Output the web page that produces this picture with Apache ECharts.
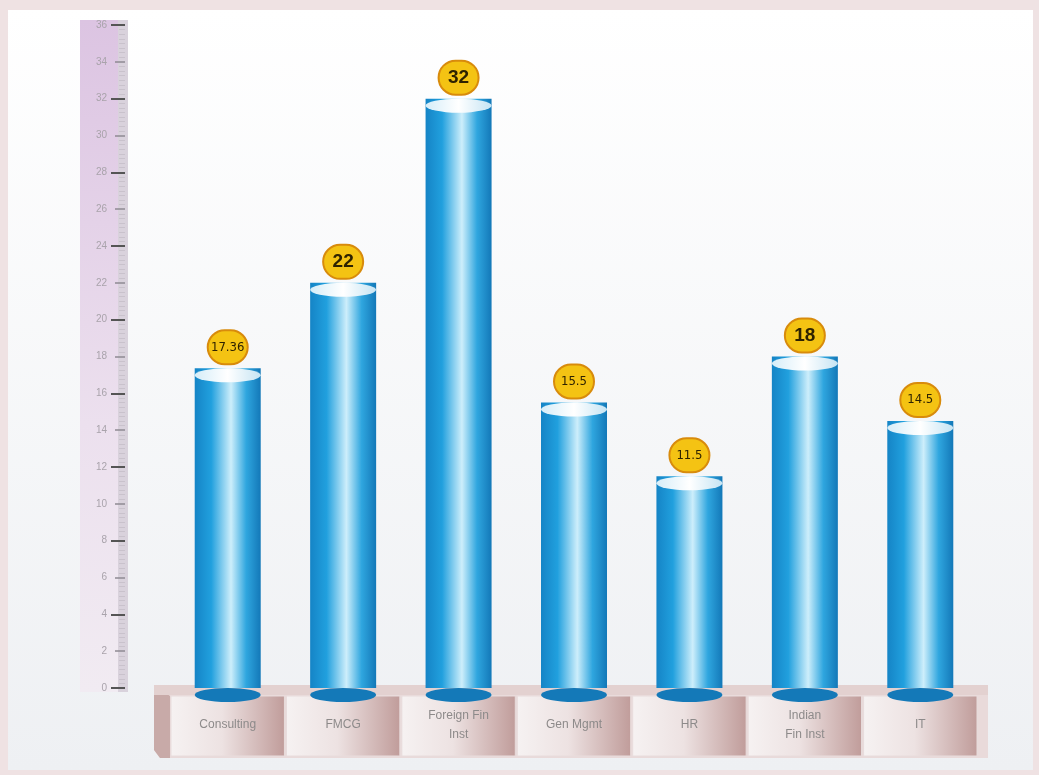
<!DOCTYPE html>
<html><head><meta charset="utf-8">
<script src="https://cdn.jsdelivr.net/npm/echarts@6/dist/echarts.min.js"></script>
<style>html,body{margin:0;padding:0;background:#efe2e3}#c{width:1039px;height:775px}</style>
</head><body><div id="c"></div>
<script>
const categories = ['Consulting', 'FMCG', 'Foreign Fin\nInst', 'Gen Mgmt', 'HR', 'Indian\nFin Inst', 'IT'];
const values = [17.36, 22, 32, 15.5, 11.5, 18, 14.5];
const labels = ['17.36', '22', '32', '15.5', '11.5', '18', '14.5'];
const yMin = 0, yMax = 36, yStep = 2;

const chart = echarts.init(document.getElementById('c'));
const barGrad = new echarts.graphic.LinearGradient(0, 0, 1, 0, [
  {offset: 0, color: '#1584c6'},
  {offset: 0.25, color: '#21a0de'},
  {offset: 0.55, color: '#cdeefb'},
  {offset: 0.78, color: '#2fa6df'},
  {offset: 1, color: '#1378b8'}
]);
const topGrad = new echarts.graphic.LinearGradient(0, 0, 1, 0, [
  {offset: 0, color: '#d6edf8'},
  {offset: 0.5, color: '#ffffff'},
  {offset: 1, color: '#c6e4f3'}
]);
const boxGrad = new echarts.graphic.LinearGradient(0, 0, 1, 0, [
  {offset: 0, color: '#f6f2f2'},
  {offset: 0.45, color: '#ede2e2'},
  {offset: 1, color: '#c09c9a'}
]);

chart.setOption({
  backgroundColor: '#efe2e3',
  animation: false,
  graphic: [
    {type: 'rect', z: -10, shape: {x: 8, y: 10, width: 1025, height: 760},
     style: {fill: new echarts.graphic.LinearGradient(0, 0, 0, 1, [
       {offset: 0, color: '#ffffff'}, {offset: 1, color: '#eef0f3'}])}},
    {type: 'rect', z: -9, shape: {x: 80, y: 20, width: 46, height: 672},
     style: {fill: new echarts.graphic.LinearGradient(0, 0, 0, 1, [
       {offset: 0, color: '#dcc4e2'}, {offset: 0.6, color: '#ece0ee'}, {offset: 1, color: '#f1ebf2'}])}},
    {type: 'rect', z: -8, shape: {x: 118, y: 20, width: 10, height: 672},
     style: {fill: '#d9d2dc'}}
  ],
  grid: {left: 170, right: 61, top: 25, bottom: 87},
  xAxis: {
    type: 'category', data: categories, z: 10,
    axisLine: {show: false}, axisTick: {show: false},
    axisLabel: {margin: 37, verticalAlign: 'middle', color: '#8d8a8a', fontSize: 12, lineHeight: 19, fontFamily: 'Liberation Sans'}
  },
  yAxis: [{
    type: 'value', min: yMin, max: yMax, interval: yStep, offset: 45,
    axisLine: {show: false},
    axisTick: {show: true, length: 10, lineStyle: {color: '#8f8a92', width: 1.5}},
    minorTick: {show: true, splitNumber: 8, length: 6, lineStyle: {color: '#c9c2cc'}},
    splitLine: {show: false},
    axisLabel: {color: '#a9a3ab', fontSize: 10, margin: 18, fontFamily: 'Liberation Sans'}
  }, {
    type: 'value', min: yMin, max: yMax, interval: yStep * 2, offset: 45, position: 'left',
    axisLine: {show: false},
    axisTick: {show: true, length: 14, lineStyle: {color: '#555', width: 2}},
    axisLabel: {show: false}, splitLine: {show: false}
  }],
  series: [
    {
      type: 'custom', z: 1,
      data: categories.map((c, i) => i),
      renderItem: function (params, api) {
        const p = api.coord([api.value(0), 0]);
        const bw = api.size([1, 0])[0];
        const x0 = p[0] - bw / 2, y0 = p[1];
        const children = [
          {type: 'rect', shape: {x: x0 + 1, y: y0 + 8, width: bw - 2, height: 60}, style: {fill: boxGrad, stroke: '#e8dcdc', lineWidth: 1}}
        ];
        if (params.dataIndex === 0) {
          const n = categories.length;
          const wAll = bw * n;
          children.unshift(
            {type: 'polygon', shape: {points: [[x0 - 16, y0 - 3], [x0 + wAll + 10, y0 - 3], [x0 + wAll + 10, y0 + 70], [x0 - 10, y0 + 70], [x0 - 16, y0 + 62]]}, style: {fill: '#e9dada'}},
            {type: 'polygon', shape: {points: [[x0 - 16, y0 - 3], [x0, y0 + 8], [x0, y0 + 70], [x0 - 10, y0 + 70], [x0 - 16, y0 + 62]]}, style: {fill: '#c8aaa8'}},
            {type: 'rect', shape: {x: x0 - 16, y: y0 - 3, width: wAll + 26, height: 10}, style: {fill: '#e3d1d0'}}
          );
        }
        return {type: 'group', children: children};
      },
      tooltip: {show: false}
    },
    {
      type: 'bar', data: values, barWidth: 66, z: 3,
      itemStyle: {color: barGrad},
      label: {
        show: true, position: 'top', distance: 5,
        formatter: p => labels[p.dataIndex].length > 3 ? '{s|' + labels[p.dataIndex] + '}' : '{b|' + labels[p.dataIndex] + '}',
        rich: {
          b: {backgroundColor: '#f4c313', borderColor: '#d88b0c', borderWidth: 2, borderRadius: 18,
              width: 32, height: 28, padding: [2, 3], align: 'center', color: '#2e2200', fontSize: 19, fontWeight: 'bold', fontFamily: 'Liberation Sans'},
          s: {backgroundColor: '#f4c313', borderColor: '#d88b0c', borderWidth: 2, borderRadius: 18,
              width: 32, height: 28, padding: [2, 3], align: 'center', color: '#2e2200', fontSize: 13, fontFamily: 'DejaVu Sans Condensed'}
        }
      }
    },
    {
      type: 'pictorialBar', data: values, symbol: 'circle', symbolSize: [66, 14],
      symbolPosition: 'end', symbolOffset: [0, 0], z: 4, barGap: '-100%',
      itemStyle: {color: topGrad}
    },
    {
      type: 'pictorialBar', data: values.map(() => 0), symbol: 'circle', symbolSize: [66, 14],
      symbolPosition: 'end', z: 2, itemStyle: {color: '#1479b8'}
    }
  ]
});
</script></body></html>
